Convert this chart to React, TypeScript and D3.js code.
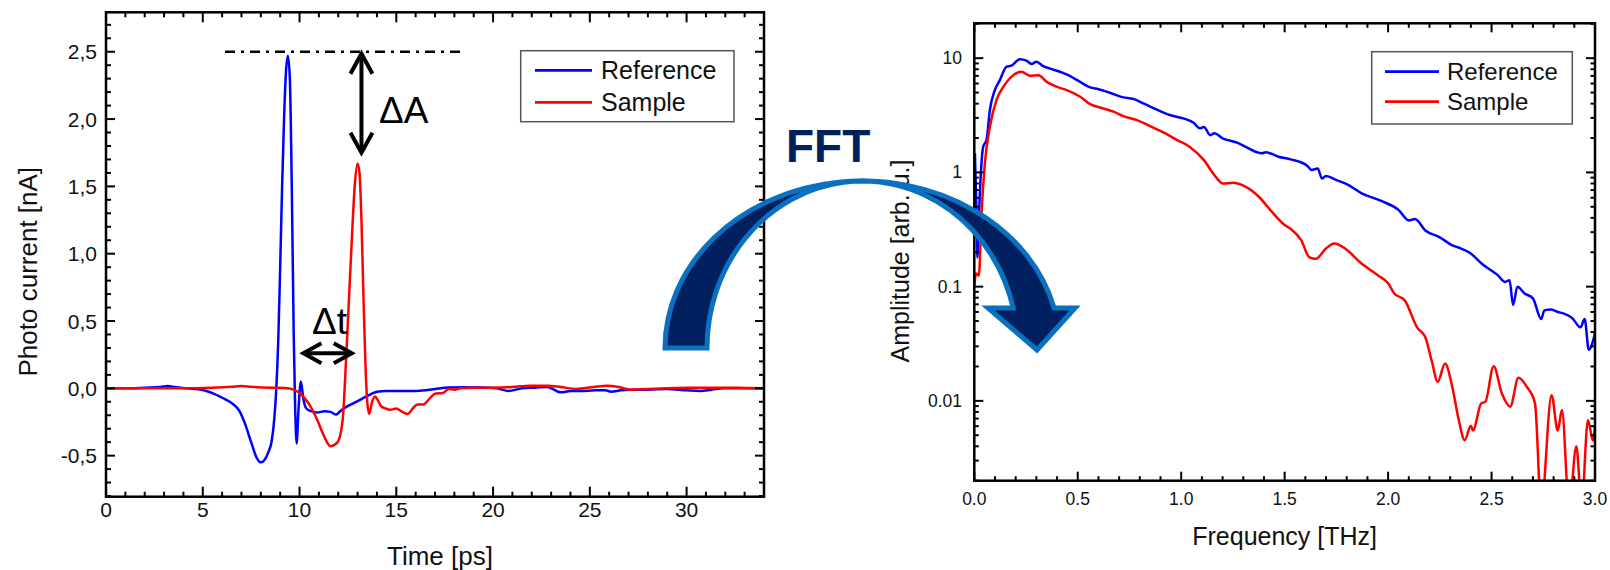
import React from "react";
import * as d3 from "d3";

// ---------- Left chart data (time domain) ----------
const refTime = [0, 1, 2, 2.8, 3.2, 3.6, 4.2, 5.0, 5.5, 6.0, 6.5, 6.9, 7.2, 7.5, 7.8, 8.0, 8.2, 8.4, 8.55, 8.7, 8.8, 8.9, 9.0, 9.1, 9.2, 9.3, 9.4, 9.5, 9.6, 9.7, 9.76, 9.85, 9.95, 10.07, 10.2, 10.35, 10.6, 10.9, 11.3, 11.6, 11.9, 12.1, 12.4, 12.8, 13.2, 13.6, 14.0, 14.5, 15.0, 15.5, 16.0, 16.5, 17.0, 17.7, 18.5, 19.4, 20.2, 20.8, 21.5, 22.2, 22.8, 23.5, 24.0, 24.5, 25.3, 25.8, 26.1, 26.6, 27.1, 28, 29, 30, 30.7, 31.3, 31.9, 32.8, 34];
const refCurrent = [0, 0, 0.005, 0.01, 0.018, 0.008, 0.0, -0.012, -0.035, -0.07, -0.11, -0.17, -0.27, -0.4, -0.52, -0.55, -0.53, -0.47, -0.4, -0.22, 0, 0.35, 0.9, 1.5, 2.0, 2.35, 2.47, 2.3, 1.5, 0.4, -0.05, -0.41, -0.15, 0.05, -0.08, -0.15, -0.17, -0.18, -0.17, -0.175, -0.195, -0.17, -0.14, -0.11, -0.08, -0.05, -0.025, -0.02, -0.02, -0.02, -0.02, -0.015, -0.005, 0.007, 0.008, 0.007, 0, -0.02, 0, 0.005, 0.01, -0.03, -0.02, -0.02, -0.015, -0.015, -0.025, -0.015, -0.01, -0.01, -0.005, -0.015, -0.02, -0.01, 0, 0, 0];
const sampleTime = [0, 2, 4, 5.5, 6.5, 7.0, 7.5, 8.5, 9.2, 9.7, 10.0, 10.3, 10.55, 10.9, 11.25, 11.6, 11.9, 12.1, 12.25, 12.4, 12.55, 12.7, 12.85, 13.0, 13.1, 13.2, 13.3, 13.4, 13.5, 13.6, 13.75, 13.9, 14.05, 14.2, 14.45, 14.7, 15.0, 15.25, 15.6, 15.85, 16.1, 16.4, 16.7, 17.0, 17.4, 17.7, 18.0, 18.3, 19, 20, 21, 21.9, 22.8, 23.5, 24.3, 25.2, 25.9, 26.5, 27.1, 28, 29, 30, 31, 32, 33, 34];
const sampleCurrent = [0, 0, 0, 0.005, 0.012, 0.017, 0.012, 0.005, 0.002, -0.01, -0.035, -0.08, -0.13, -0.23, -0.35, -0.43, -0.41, -0.35, -0.2, 0.2, 0.65, 1.1, 1.5, 1.67, 1.6, 1.25, 0.7, 0.2, -0.1, -0.19, -0.1, -0.06, -0.09, -0.13, -0.15, -0.16, -0.15, -0.17, -0.19, -0.15, -0.12, -0.12, -0.08, -0.04, -0.035, -0.005, -0.01, 0, 0.005, 0.005, 0.01, 0.02, 0.02, 0.01, -0.005, 0.01, 0.02, 0.01, -0.01, -0.005, 0, 0.005, 0.005, 0.005, 0.003, 0];
const timeTicks = [0, 5, 10, 15, 20, 25, 30];
const currentTicks = [-0.5, 0, 0.5, 1.0, 1.5, 2.0, 2.5];

// ---------- Right chart data (frequency domain) ----------
const refFreq = [0.003, 0.01, 0.015, 0.022, 0.032, 0.043, 0.059, 0.075, 0.099, 0.123, 0.155, 0.179, 0.22, 0.252, 0.277, 0.30, 0.334, 0.366, 0.414, 0.446, 0.511, 0.56, 0.6, 0.655, 0.72, 0.768, 0.817, 0.88, 0.945, 1.01, 1.06, 1.09, 1.11, 1.14, 1.16, 1.2, 1.27, 1.31, 1.39, 1.41, 1.47, 1.53, 1.61, 1.63, 1.66, 1.68, 1.7, 1.75, 1.8, 1.87, 1.97, 2.05, 2.1, 2.13, 2.18, 2.25, 2.31, 2.34, 2.4, 2.45, 2.53, 2.565, 2.587, 2.604, 2.625, 2.66, 2.7, 2.74, 2.755, 2.785, 2.82, 2.85, 2.89, 2.93, 2.95, 2.97, 3.0];
const refAmp = [1.47, 0.5, 0.18, 0.4, 1.0, 1.68, 1.92, 3.5, 5.25, 6.4, 8.4, 8.6, 9.8, 9.5, 8.9, 9.3, 8.5, 8.1, 7.6, 7.2, 6.2, 5.55, 5.35, 4.98, 4.54, 4.4, 4.02, 3.56, 3.18, 2.97, 2.72, 2.43, 2.5, 2.12, 2.2, 1.99, 1.82, 1.68, 1.47, 1.5, 1.37, 1.3, 1.14, 1.05, 1.08, 0.885, 0.93, 0.857, 0.79, 0.66, 0.56, 0.47, 0.38, 0.39, 0.31, 0.27, 0.23, 0.22, 0.195, 0.16, 0.126, 0.11, 0.114, 0.069, 0.1, 0.087, 0.079, 0.052, 0.062, 0.063, 0.06, 0.058, 0.053, 0.044, 0.052, 0.028, 0.039];
const sampleFreq = [0, 0.008, 0.022, 0.035, 0.051, 0.075, 0.107, 0.14, 0.18, 0.228, 0.269, 0.31, 0.35, 0.4, 0.447, 0.512, 0.56, 0.625, 0.673, 0.72, 0.786, 0.85, 0.914, 0.98, 1.04, 1.11, 1.16, 1.2, 1.25, 1.31, 1.38, 1.43, 1.5, 1.53, 1.58, 1.62, 1.65, 1.7, 1.74, 1.8, 1.87, 1.95, 2.0, 2.03, 2.08, 2.14, 2.18, 2.21, 2.24, 2.275, 2.31, 2.34, 2.37, 2.4, 2.41, 2.45, 2.47, 2.51, 2.55, 2.59, 2.63, 2.67, 2.71, 2.74, 2.79, 2.82, 2.84, 2.875, 2.91, 2.935, 2.966, 2.99, 3.0];
const sampleAmp = [0.1, 0.13, 0.125, 0.44, 1.2, 2.5, 4.3, 5.6, 6.9, 7.6, 7.0, 7.1, 6.2, 5.6, 5.25, 4.6, 3.96, 3.63, 3.4, 3.11, 2.87, 2.54, 2.24, 1.92, 1.68, 1.28, 0.95, 0.8, 0.81, 0.75, 0.6, 0.47, 0.346, 0.32, 0.255, 0.18, 0.175, 0.216, 0.239, 0.21, 0.16, 0.126, 0.107, 0.087, 0.076, 0.044, 0.036, 0.0227, 0.0147, 0.0212, 0.0133, 0.007, 0.00453, 0.00604, 0.0055, 0.0095, 0.0098, 0.0201, 0.0116, 0.0089, 0.0159, 0.0133, 0.0095, 0.0012, 0.0112, 0.0055, 0.0083, 0.0012, 0.004, 0.0012, 0.0068, 0.0045, 0.006];
const freqTicks = [0, 0.5, 1.0, 1.5, 2.0, 2.5, 3.0];
const ampTicks = [0.01, 0.1, 1, 10];
const ampTickLabels = ["0.01", "0.1", "1", "10"];

const seriesNames = ["Reference", "Sample"];
const seriesColors = ["#0000ff", "#ff0000"];

const FONT = "'Liberation Sans', Arial, Helvetica, sans-serif";

export default function App() {
  // Left chart geometry
  const L = { x0: 106, x1: 764, y0: 12.3, y1: 496.7 };
  const xL = d3.scaleLinear().domain([0, 34]).range([L.x0, L.x1]);
  const yL = d3.scaleLinear().domain([-0.805, 2.793]).range([L.y1, L.y0]);

  // Right chart geometry
  const R = { x0: 974.3, x1: 1595, y0: 23.3, y1: 480.7 };
  const xR = d3.scaleLinear().domain([0, 3]).range([R.x0, R.x1]);
  const yR = d3.scaleLog().domain([0.002, 20.2]).range([R.y1, R.y0]);

  const lineL = d3
    .line<[number, number]>()
    .x((d) => xL(d[0]))
    .y((d) => yL(d[1]))
    .curve(d3.curveMonotoneX);
  const lineR = d3
    .line<[number, number]>()
    .x((d) => xR(d[0]))
    .y((d) => yR(d[1]))
    .curve(d3.curveMonotoneX);

  const refT: [number, number][] = refTime.map((t, i) => [t, refCurrent[i]]);
  const samT: [number, number][] = sampleTime.map((t, i) => [t, sampleCurrent[i]]);
  const refF: [number, number][] = refFreq.map((f, i) => [f, refAmp[i]]);
  const samF: [number, number][] = sampleFreq.map((f, i) => [f, sampleAmp[i]]);

  const commaFmt = (v: number) => d3.format(".1f")(v).replace("\u2212", "-").replace(".", ",");

  // minor ticks
  const tMinor = d3.range(0, 35, 1);
  const cMinor = d3.range(-8, 28, 1).map((v) => v / 10);
  const fMinor = d3.range(0, 31, 1).map((v) => v / 10);
  const aMinor: number[] = [];
  [0.001, 0.01, 0.1, 1, 10].forEach((dec) => {
    for (let k = 1; k <= 9; k++) {
      const v = dec * k;
      if (v >= 0.002 && v <= 20.2) aMinor.push(v);
    }
  });

  const axisStroke = 2.5;
  const tickStroke = 2;

  // Annotation geometry from data scales
  const dashY = yL(2.5);
  const dashX0 = xL(6.15);
  const dashX1 = xL(18.3);
  const vArrowX = xL(13.2);
  const vArrowTop = yL(2.5) + 2;
  const vArrowBot = yL(1.75);
  const hArrowY = yL(0.26);
  const hArrowX0 = xL(10.2);
  const hArrowX1 = xL(12.7);

  // Curved FFT arrow geometry
  const cx = 862.4, cy = 348, rxO = 197.4, rxI = 155.4, ry = 167, headY = 308;
  const k = Math.sqrt(1 - Math.pow((cy - headY) / ry, 2));
  const outerRight = cx + rxO * k;
  const innerRight = cx + rxI * k;
  const arrowPath = `M ${cx - rxO} ${cy} A ${rxO} ${ry} 0 0 1 ${outerRight} ${headY} L 1075 ${headY} L 1037 350 L 988 ${headY} L ${innerRight} ${headY} A ${rxI} ${ry} 0 0 0 ${cx - rxI} ${cy} Z`;

  return (
    <svg
      width={1610}
      height={570}
      style={{ position: "absolute", left: 0, top: 0, background: "#fff" }}
      fontFamily={FONT}
    >
      <defs>
        <clipPath id="clipL">
          <rect x={L.x0} y={L.y0} width={L.x1 - L.x0} height={L.y1 - L.y0} />
        </clipPath>
        <clipPath id="clipR">
          <rect x={R.x0} y={R.y0} width={R.x1 - R.x0} height={R.y1 - R.y0} />
        </clipPath>
      </defs>
      <rect x={0} y={0} width={1610} height={570} fill="#fff" />

      {/* ================= LEFT CHART ================= */}
      <g clipPath="url(#clipL)" fill="none" strokeWidth={2.5} strokeLinejoin="round">
        <path d={lineL(refT) || ""} stroke={seriesColors[0]} />
        <path d={lineL(samT) || ""} stroke={seriesColors[1]} />
      </g>
      {/* ticks */}
      <g stroke="#000" strokeWidth={tickStroke}>
        {tMinor.map((t) => {
          const major = t % 5 === 0;
          const len = major ? 10 : 5;
          const x = xL(t);
          return (
            <g key={"lt" + t}>
              <line x1={x} x2={x} y1={L.y1} y2={L.y1 - len} />
              <line x1={x} x2={x} y1={L.y0} y2={L.y0 + len} />
            </g>
          );
        })}
        {cMinor.map((v, i) => {
          const major = Math.abs(Math.round(v * 10) % 5) === 0;
          const len = major ? 9 : 5;
          const y = yL(v);
          return (
            <g key={"lc" + i}>
              <line x1={L.x0} x2={L.x0 + len} y1={y} y2={y} />
              <line x1={L.x1} x2={L.x1 - len} y1={y} y2={y} />
            </g>
          );
        })}
      </g>
      <rect x={L.x0} y={L.y0} width={L.x1 - L.x0} height={L.y1 - L.y0} fill="none" stroke="#000" strokeWidth={axisStroke} />
      {/* tick labels */}
      <g fontSize={21} fill="#111">
        {timeTicks.map((t) => (
          <text key={"tl" + t} x={xL(t)} y={517} textAnchor="middle">
            {t}
          </text>
        ))}
        {currentTicks.map((v) => (
          <text key={"cl" + v} x={97} y={yL(v) + 7.5} textAnchor="end">
            {commaFmt(v)}
          </text>
        ))}
      </g>
      <text x={(L.x0 + L.x1) / 2 + 5} y={565} fontSize={26} textAnchor="middle" fill="#111">
        Time [ps]
      </text>
      <text
        transform={`translate(37, 271.7) rotate(-90)`}
        fontSize={26}
        textAnchor="middle"
        fill="#111"
      >
        Photo current [nA]
      </text>
      {/* legend left */}
      <g>
        <rect x={520.7} y={50.7} width={213.3} height={71} fill="#fff" stroke="#555" strokeWidth={1.5} />
        {seriesNames.map((n, i) => (
          <g key={"lgl" + n}>
            <line x1={535} x2={592} y1={70.3 + i * 32} y2={70.3 + i * 32} stroke={seriesColors[i]} strokeWidth={2.8} />
            <text x={601} y={70.3 + i * 32 + 9} fontSize={25} fill="#111">
              {n}
            </text>
          </g>
        ))}
      </g>
      {/* annotations */}
      <line x1={dashX0} x2={dashX1} y1={dashY} y2={dashY} stroke="#000" strokeWidth={2.5} strokeDasharray="10,6,3,6" />
      <g stroke="#000" strokeWidth={4} fill="none" strokeLinecap="butt" strokeLinejoin="miter">
        <line x1={vArrowX} x2={vArrowX} y1={vArrowTop + 2} y2={vArrowBot - 2} />
        <polyline points={`${vArrowX - 11},${vArrowTop + 20} ${vArrowX},${vArrowTop} ${vArrowX + 11},${vArrowTop + 20}`} />
        <polyline points={`${vArrowX - 11},${vArrowBot - 20} ${vArrowX},${vArrowBot} ${vArrowX + 11},${vArrowBot - 20}`} />
        <line x1={hArrowX0 + 2} x2={hArrowX1 - 2} y1={hArrowY} y2={hArrowY} />
        <polyline points={`${hArrowX0 + 18},${hArrowY - 10} ${hArrowX0},${hArrowY} ${hArrowX0 + 18},${hArrowY + 10}`} />
        <polyline points={`${hArrowX1 - 18},${hArrowY - 10} ${hArrowX1},${hArrowY} ${hArrowX1 - 18},${hArrowY + 10}`} />
      </g>
      <text x={379} y={122.7} fontSize={37} fill="#000">
        ΔA
      </text>
      <text x={312} y={334} fontSize={37} fill="#000">
        Δt
      </text>

      {/* ================= RIGHT CHART ================= */}
      <g clipPath="url(#clipR)" fill="none" strokeWidth={2.5} strokeLinejoin="round">
        <path d={lineR(refF) || ""} stroke={seriesColors[0]} />
        <path d={lineR(samF) || ""} stroke={seriesColors[1]} />
      </g>
      <g stroke="#000" strokeWidth={tickStroke}>
        {fMinor.map((f, i) => {
          const major = i % 5 === 0;
          const len = major ? 9 : 4.5;
          const x = xR(f);
          return (
            <g key={"rf" + i}>
              <line x1={x} x2={x} y1={R.y1} y2={R.y1 - len} />
              <line x1={x} x2={x} y1={R.y0} y2={R.y0 + len} />
            </g>
          );
        })}
        {aMinor.map((v, i) => {
          const major = ampTicks.some((t) => Math.abs(t - v) < t * 1e-6);
          const len = major ? 9 : 4.5;
          const y = yR(v);
          return (
            <g key={"ra" + i}>
              <line x1={R.x0} x2={R.x0 + len} y1={y} y2={y} />
              <line x1={R.x1} x2={R.x1 - len} y1={y} y2={y} />
            </g>
          );
        })}
      </g>
      <rect x={R.x0} y={R.y0} width={R.x1 - R.x0} height={R.y1 - R.y0} fill="none" stroke="#000" strokeWidth={axisStroke} />
      <g fontSize={17.5} fill="#111">
        {freqTicks.map((f) => (
          <text key={"fl" + f} x={xR(f)} y={505} textAnchor="middle">
            {d3.format(".1f")(f)}
          </text>
        ))}
        {ampTicks.map((v, i) => (
          <text key={"al" + v} x={962} y={yR(v) + 6} textAnchor="end">
            {ampTickLabels[i]}
          </text>
        ))}
      </g>
      <text x={(R.x0 + R.x1) / 2} y={545} fontSize={25} textAnchor="middle" fill="#111">
        Frequency [THz]
      </text>
      <text transform={`translate(909, 261) rotate(-90)`} fontSize={25} textAnchor="middle" fill="#111">
        Amplitude [arb. u.]
      </text>
      <g>
        <rect x={1371.7} y={51.7} width={200.6} height={72.3} fill="#fff" stroke="#555" strokeWidth={1.5} />
        {seriesNames.map((n, i) => (
          <g key={"lgr" + n}>
            <line x1={1385} x2={1439} y1={71.7 + i * 30} y2={71.7 + i * 30} stroke={seriesColors[i]} strokeWidth={2.8} />
            <text x={1447} y={71.7 + i * 30 + 8.5} fontSize={24} fill="#111">
              {n}
            </text>
          </g>
        ))}
      </g>

      {/* ================= FFT ARROW ================= */}
      <path d={arrowPath} fill="#002060" stroke="#0a70c0" strokeWidth={5} strokeLinejoin="miter" />
      <text x={786} y={161.7} fontSize={46} fontWeight="bold" fill="#002060">
        FFT
      </text>
    </svg>
  );
}
